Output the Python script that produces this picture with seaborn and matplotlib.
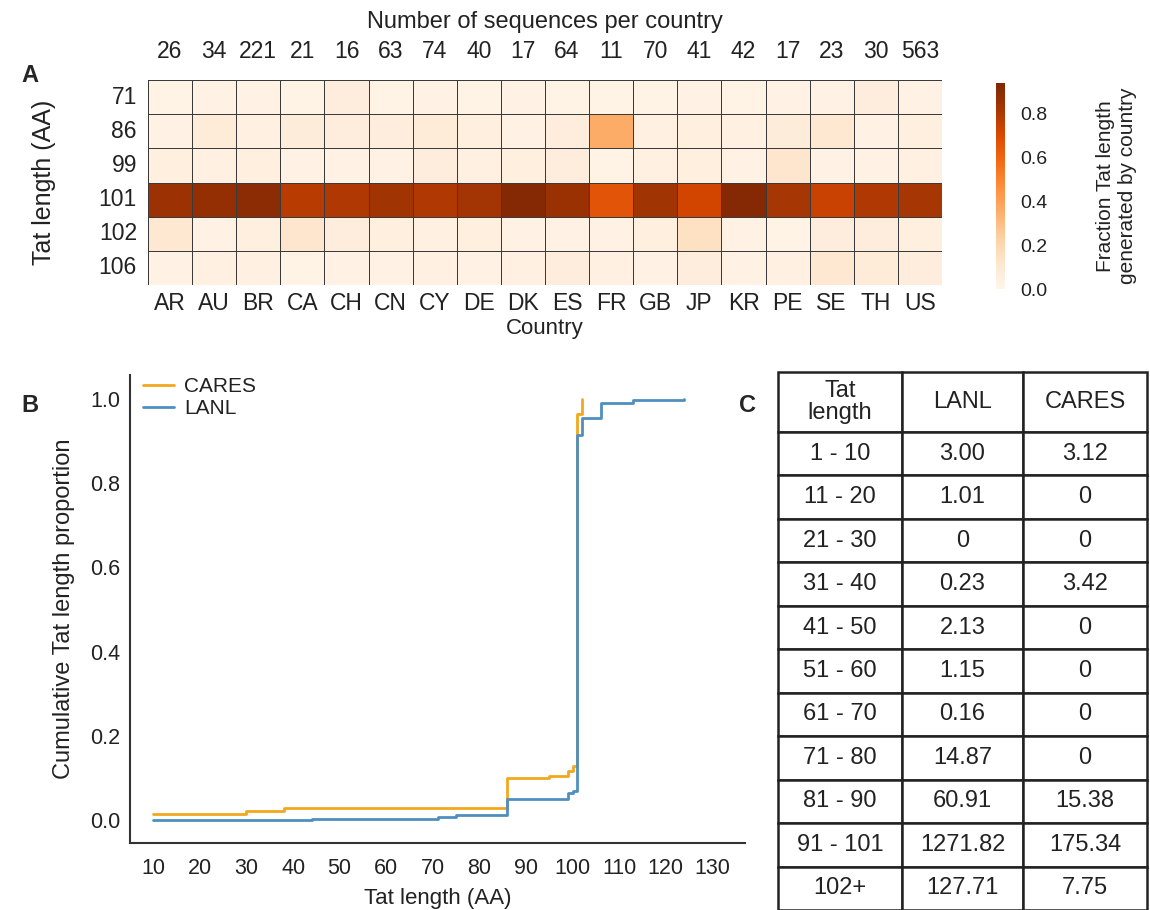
import numpy as np
import pandas as pd
import matplotlib
matplotlib.use("Agg")
import matplotlib.pyplot as plt
import seaborn as sns

# DATA
countries = ["AR", "AU", "BR", "CA", "CH", "CN", "CY", "DE", "DK",
             "ES", "FR", "GB", "JP", "KR", "PE", "SE", "TH", "US"]
seq_counts = [26, 34, 221, 21, 16, 63, 74, 40, 17, 64, 11, 70, 41, 42, 17, 23, 30, 563]
tat_lengths = [71, 86, 99, 101, 102, 106]

frac_71 = [0.02, 0.03, 0.03, 0.02, 0.06, 0.02, 0.03, 0.02, 0.03,
           0.02, 0.02, 0.02, 0.03, 0.02, 0.03, 0.03, 0.06, 0.03]
frac_86 = [0.03, 0.08, 0.04, 0.07, 0.06, 0.06, 0.08, 0.05, 0.03,
           0.06, 0.36, 0.04, 0.05, 0.04, 0.07, 0.10, 0.03, 0.05]
frac_99 = [0.05, 0.04, 0.05, 0.03, 0.03, 0.03, 0.06, 0.04, 0.05,
           0.06, 0.02, 0.04, 0.05, 0.03, 0.12, 0.03, 0.03, 0.04]
frac_101 = [0.85, 0.88, 0.90, 0.78, 0.80, 0.84, 0.80, 0.83, 0.92,
            0.86, 0.66, 0.84, 0.72, 0.92, 0.82, 0.74, 0.80, 0.82]
frac_102 = [0.10, 0.03, 0.05, 0.12, 0.06, 0.05, 0.04, 0.05, 0.03,
            0.03, 0.03, 0.05, 0.15, 0.03, 0.02, 0.06, 0.06, 0.05]
frac_106 = [0.03, 0.04, 0.04, 0.02, 0.03, 0.03, 0.04, 0.03, 0.04,
            0.06, 0.04, 0.03, 0.06, 0.03, 0.04, 0.10, 0.08, 0.06]

# cumulative Tat length (step points)
cares_len = [10, 30, 38, 86, 95, 99, 100, 101, 102]
cares_cum = [0.015, 0.022, 0.027, 0.100, 0.105, 0.115, 0.128, 0.965, 1.0]
lanl_len = [10, 44, 71, 75, 86, 99, 100, 101, 102, 106, 113, 124]
lanl_cum = [0.0, 0.002, 0.007, 0.012, 0.050, 0.064, 0.069, 0.915, 0.955, 0.99, 0.997, 1.0]

# table C
table_bins = ["1 - 10", "11 - 20", "21 - 30", "31 - 40", "41 - 50", "51 - 60",
              "61 - 70", "71 - 80", "81 - 90", "91 - 101", "102+"]
table_lanl = ["3.00", "1.01", "0", "0.23", "2.13", "1.15", "0.16", "14.87", "60.91", "1271.82", "127.71"]
table_cares = ["3.12", "0", "0", "3.42", "0", "0", "0", "0", "15.38", "175.34", "7.75"]

sns.set_style("white")
plt.rcParams['font.family'] = ['Liberation Sans', 'DejaVu Sans']
plt.rcParams['font.size'] = 16
text_col = "#222222"

fig = plt.figure(figsize=(11.5, 9.1), dpi=100)

# A. HEATMAP
heat_df = pd.DataFrame([frac_71, frac_86, frac_99, frac_101, frac_102, frac_106],
                       index=tat_lengths, columns=countries)
ax_a = fig.add_axes([148 / 1150, 1 - 285 / 910, 794 / 1150, 205 / 910])
cbar_ax = fig.add_axes([996 / 1150, 1 - 289 / 910, 9 / 1150, 206 / 910])
sns.heatmap(heat_df, ax=ax_a, cbar_ax=cbar_ax, cmap="Oranges", vmin=0, vmax=0.94,
            linewidths=0.6, linecolor="#3a3a3a")
ax_a.set_xlabel("Country", fontsize=16, labelpad=2, color=text_col)
ax_a.set_ylabel("Tat length (AA)", fontsize=18, labelpad=31, color=text_col)
ax_a.tick_params(axis="both", labelsize=16.5, length=0, colors=text_col)
ax_a.tick_params(axis="y", pad=8)
ax_a.tick_params(axis="x", pad=5)
ax_a.set_yticklabels(tat_lengths, rotation=0)
ax_a.set_xticklabels(countries, rotation=0)

ax_top = ax_a.twiny()
ax_top.set_xlim(ax_a.get_xlim())
ax_top.set_xticks(np.arange(len(countries)) + 0.5)
ax_top.set_xticklabels(seq_counts, fontsize=16.5, color=text_col)
ax_top.tick_params(length=0, pad=12)
ax_top.set_xlabel("Number of sequences per country", fontsize=17, labelpad=9, color=text_col)
for s in ax_top.spines.values():
    s.set_visible(False)

cbar_ax.tick_params(labelsize=14, length=0, pad=11, colors=text_col)
cbar_ax.set_yticks([0.0, 0.2, 0.4, 0.6, 0.8])
cbar_ax.set_ylabel("Fraction Tat length\ngenerated by country", fontsize=15,
                   labelpad=35, color=text_col)

# B. CUMULATIVE PLOT
cum_df = pd.DataFrame({
    "length": cares_len + lanl_len,
    "cum": cares_cum + lanl_cum,
    "source": ["CARES"] * len(cares_len) + ["LANL"] * len(lanl_len),
})
ax_b = fig.add_axes([130 / 1150, 1 - 843 / 910, 615 / 1150, 468 / 910])
sns.lineplot(data=cum_df, x="length", y="cum", hue="source", ax=ax_b,
             palette={"CARES": "#f2a81d", "LANL": "#4f8fbf"},
             drawstyle="steps-post", linewidth=2, estimator=None)
ax_b.set_xlim(5, 137)
ax_b.set_ylim(-0.055, 1.057)
ax_b.set_xticks(range(10, 131, 10))
ax_b.set_yticks([0.0, 0.2, 0.4, 0.6, 0.8, 1.0])
ax_b.tick_params(length=0, colors=text_col, labelsize=15.5)
ax_b.tick_params(axis="x", pad=11)
ax_b.tick_params(axis="y", pad=7)
ax_b.set_xlabel("Tat length (AA)", fontsize=16, labelpad=6, color=text_col)
ax_b.set_ylabel("Cumulative Tat length proportion", fontsize=17, labelpad=11, color=text_col)
sns.despine(ax=ax_b)
for s in ["left", "bottom"]:
    ax_b.spines[s].set_color("#333333")
    ax_b.spines[s].set_linewidth(1.5)
ax_b.legend(frameon=False, loc="upper left", bbox_to_anchor=(-0.01, 1.035),
            fontsize=15, handlelength=1.5, handletextpad=0.5, labelspacing=0.15,
            labelcolor=text_col)

# C. TABLE
ax_c = fig.add_axes([778 / 1150, 0, 369 / 1150, 538 / 910])
ax_c.axis("off")
cell_text = [[b, l, c] for b, l, c in zip(table_bins, table_lanl, table_cares)]
tbl = ax_c.table(cellText=cell_text, colLabels=["Tat\nlength", "LANL", "CARES"],
                 cellLoc="center", bbox=[0, 0, 1, 1],
                 colWidths=[124 / 369, 121 / 369, 124 / 369])
tbl.auto_set_font_size(False)
header_h = 60 / 538
row_h = (1 - header_h) / len(table_bins)
for (r, c), cell in tbl.get_celld().items():
    cell.set_fontsize(17)
    cell.set_linewidth(1.8)
    cell.set_edgecolor("#222222")
    cell.set_height(header_h if r == 0 else row_h)
    cell.get_text().set_color(text_col)
    if r == 0:
        cell.get_text().set_linespacing(1.05)

# panel letters
fig.text(30 / 1150, 1 - 75 / 910, "A", fontsize=17, fontweight="bold", va="center", ha="center")
fig.text(30 / 1150, 1 - 405 / 910, "B", fontsize=17, fontweight="bold", va="center", ha="center")
fig.text(748 / 1150, 1 - 405 / 910, "C", fontsize=17, fontweight="bold", va="center", ha="center")

plt.savefig("out.png", dpi=100)
